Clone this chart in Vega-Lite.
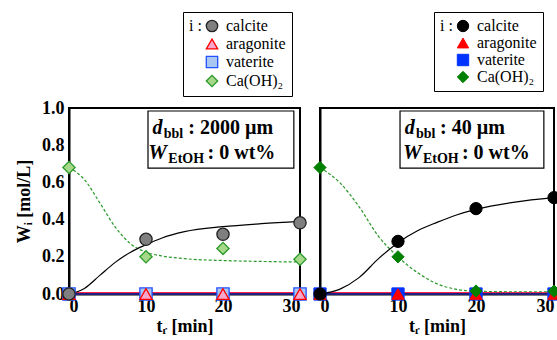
{
  "$schema": "https://vega.github.io/schema/vega-lite/v6.json",
  "padding": {"top": 10, "left": 14, "right": 2, "bottom": 2},
  "background": "white",
  "config": {
    "view": {"stroke": "black", "strokeWidth": 2},
    "font": "Liberation Serif",
    "axis": {"domainColor": "black", "domainWidth": 2, "tickColor": "black", "grid": false, "labelColor": "black", "titleColor": "black", "labelFont": "Liberation Serif", "titleFont": "Liberation Serif", "labelFontWeight": "bold", "titleFontWeight": "bold", "labelFontSize": 18, "titleFontSize": 18},
    "legend": {"labelFont": "Liberation Serif", "labelFontSize": 16, "labelColor": "black", "titleFont": "Liberation Serif", "titleFontSize": 16, "titleFontWeight": "normal", "titleColor": "black"}
  },
  "datasets": {
    "left_pts": [
      {"mineral": "vaterite", "t": 0, "w": 0}, {"mineral": "vaterite", "t": 10, "w": 0}, {"mineral": "vaterite", "t": 20, "w": 0}, {"mineral": "vaterite", "t": 30, "w": 0},
      {"mineral": "aragonite", "t": 0, "w": 0}, {"mineral": "aragonite", "t": 10, "w": 0}, {"mineral": "aragonite", "t": 20, "w": 0}, {"mineral": "aragonite", "t": 30, "w": 0},
      {"mineral": "Ca(OH)₂", "t": 0, "w": 0.68}, {"mineral": "Ca(OH)₂", "t": 10, "w": 0.2}, {"mineral": "Ca(OH)₂", "t": 20, "w": 0.245}, {"mineral": "Ca(OH)₂", "t": 30, "w": 0.187},
      {"mineral": "calcite", "t": 0, "w": 0}, {"mineral": "calcite", "t": 10, "w": 0.294}, {"mineral": "calcite", "t": 20, "w": 0.321}, {"mineral": "calcite", "t": 30, "w": 0.383}
    ],
    "right_pts": [
      {"mineral": "vaterite", "t": 0, "w": 0}, {"mineral": "vaterite", "t": 10, "w": 0}, {"mineral": "vaterite", "t": 20, "w": 0}, {"mineral": "vaterite", "t": 30, "w": 0},
      {"mineral": "aragonite", "t": 0, "w": 0}, {"mineral": "aragonite", "t": 10, "w": 0}, {"mineral": "aragonite", "t": 20, "w": 0}, {"mineral": "aragonite", "t": 30, "w": 0},
      {"mineral": "Ca(OH)₂", "t": 0, "w": 0.68}, {"mineral": "Ca(OH)₂", "t": 10, "w": 0.2}, {"mineral": "Ca(OH)₂", "t": 20, "w": 0.016}, {"mineral": "Ca(OH)₂", "t": 30, "w": 0.015},
      {"mineral": "calcite", "t": 0, "w": 0}, {"mineral": "calcite", "t": 10, "w": 0.283}, {"mineral": "calcite", "t": 20, "w": 0.459}, {"mineral": "calcite", "t": 30, "w": 0.518}
    ],
    "left_fit": [
      {"series": "calcite", "t": 0, "w": 0}, {"series": "calcite", "t": 2, "w": 0.03}, {"series": "calcite", "t": 4, "w": 0.1}, {"series": "calcite", "t": 6, "w": 0.17}, {"series": "calcite", "t": 8, "w": 0.225}, {"series": "calcite", "t": 10, "w": 0.265}, {"series": "calcite", "t": 12, "w": 0.3}, {"series": "calcite", "t": 15, "w": 0.335}, {"series": "calcite", "t": 20, "w": 0.362}, {"series": "calcite", "t": 25, "w": 0.378}, {"series": "calcite", "t": 30, "w": 0.39},
      {"series": "caoh", "t": 0, "w": 0.68}, {"series": "caoh", "t": 2, "w": 0.615}, {"series": "caoh", "t": 4, "w": 0.49}, {"series": "caoh", "t": 6, "w": 0.36}, {"series": "caoh", "t": 8, "w": 0.27}, {"series": "caoh", "t": 10, "w": 0.225}, {"series": "caoh", "t": 12, "w": 0.205}, {"series": "caoh", "t": 15, "w": 0.19}, {"series": "caoh", "t": 20, "w": 0.18}, {"series": "caoh", "t": 25, "w": 0.175}, {"series": "caoh", "t": 30, "w": 0.172}
    ],
    "right_fit": [
      {"series": "calcite", "t": 0, "w": 0}, {"series": "calcite", "t": 2.5, "w": 0.025}, {"series": "calcite", "t": 5, "w": 0.088}, {"series": "calcite", "t": 7.5, "w": 0.19}, {"series": "calcite", "t": 10, "w": 0.276}, {"series": "calcite", "t": 12.5, "w": 0.34}, {"series": "calcite", "t": 15, "w": 0.385}, {"series": "calcite", "t": 17.5, "w": 0.425}, {"series": "calcite", "t": 20, "w": 0.455}, {"series": "calcite", "t": 25, "w": 0.494}, {"series": "calcite", "t": 30, "w": 0.518},
      {"series": "caoh", "t": 0, "w": 0.68}, {"series": "caoh", "t": 2.5, "w": 0.6}, {"series": "caoh", "t": 5, "w": 0.47}, {"series": "caoh", "t": 7.5, "w": 0.31}, {"series": "caoh", "t": 10, "w": 0.2}, {"series": "caoh", "t": 12.5, "w": 0.115}, {"series": "caoh", "t": 15, "w": 0.055}, {"series": "caoh", "t": 17.5, "w": 0.025}, {"series": "caoh", "t": 20, "w": 0.015}, {"series": "caoh", "t": 25, "w": 0.012}, {"series": "caoh", "t": 30, "w": 0.012}
    ],
    "zero": [
      {"series": "vaterite", "t": 0, "w": 0}, {"series": "vaterite", "t": 30, "w": 0},
      {"series": "aragonite", "t": 0, "w": 0.006}, {"series": "aragonite", "t": 30, "w": 0.006}
    ],
    "one": [{"k": 1}]
  },
  "hconcat": [
    {
      "width": 231, "height": 186,
      "layer": [
        {
          "encoding": {
            "x": {"field": "t", "type": "quantitative", "scale": {"domain": [0, 30]}, "axis": {"values": [0, 10, 20, 30], "title": "tᵣ [min]", "labelPadding": 3, "titlePadding": 2, "ticks": false, "labelFont": "Liberation Serif", "labelFontWeight": "bold", "labelFontSize": 18, "titleFont": "Liberation Serif", "titleFontWeight": "bold", "titleFontSize": 18, "labelOverlap": false}},
            "y": {"field": "w", "type": "quantitative", "scale": {"domain": [0, 1]}, "axis": {"values": [0, 0.2, 0.4, 0.6, 0.8, 1.0], "format": ".1f", "title": "Wᵢ [mol/L]", "ticks": false, "labelPadding": 5, "titlePadding": 8, "labelFont": "Liberation Serif", "labelFontWeight": "bold", "labelFontSize": 18, "titleFont": "Liberation Serif", "titleFontWeight": "bold", "titleFontSize": 18, "labelOverlap": false}}
          },
          "layer": [
            {"data": {"name": "zero"}, "transform": [{"filter": "datum.series == 'aragonite'"}], "mark": {"type": "line", "color": "#ff2050", "strokeWidth": 2}},
            {"data": {"name": "zero"}, "transform": [{"filter": "datum.series == 'vaterite'"}], "mark": {"type": "line", "color": "#202080", "strokeWidth": 2}},
            {"data": {"name": "left_fit"}, "transform": [{"filter": "datum.series == 'caoh'"}], "mark": {"type": "line", "color": "#2a9a2a", "strokeWidth": 1.2, "strokeDash": [3, 2], "interpolate": "monotone"}},
            {"data": {"name": "left_fit"}, "transform": [{"filter": "datum.series == 'calcite'"}], "mark": {"type": "line", "color": "black", "strokeWidth": 1.2, "interpolate": "monotone"}},
            {"data": {"name": "left_pts"}, "mark": {"type": "point", "filled": true, "size": 150, "strokeWidth": 1.3, "opacity": 1},
              "encoding": {
                "shape": {"field": "mineral", "type": "nominal", "scale": {"domain": ["calcite", "aragonite", "vaterite", "Ca(OH)₂"], "range": ["circle", "triangle-up", "square", "diamond"]}, "legend": {"title": "i :", "titleOrient": "left", "titleBaseline": "top", "titleAnchor": "start", "titlePadding": 2, "orient": "none", "legendX": 114, "legendY": -96, "padding": 6, "strokeColor": "black", "fillColor": "white", "symbolSize": 130, "symbolStrokeWidth": 1.3, "rowPadding": 1, "labelOffset": 6}},
                "fill": {"field": "mineral", "type": "nominal", "scale": {"domain": ["calcite", "aragonite", "vaterite", "Ca(OH)₂"], "range": ["#7f7f7f", "#f6a8cc", "#a8c6f0", "#a6d88a"]}},
                "stroke": {"field": "mineral", "type": "nominal", "scale": {"domain": ["calcite", "aragonite", "vaterite", "Ca(OH)₂"], "range": ["#222222", "#ff0000", "#2050ff", "#2a9a2a"]}}
              }}
          ]
        },
        {
          "encoding": {
            "x": {"datum": 10.26, "type": "quantitative", "scale": {"domain": [0, 30]}, "axis": {"values": [0, 10, 20, 30], "title": "tᵣ [min]", "labelPadding": 3, "titlePadding": 2, "ticks": false, "labelFont": "Liberation Serif", "labelFontWeight": "bold", "labelFontSize": 18, "titleFont": "Liberation Serif", "titleFontWeight": "bold", "titleFontSize": 18, "labelOverlap": false}},
            "y": {"datum": 0.984, "type": "quantitative", "scale": {"domain": [0, 1]}, "axis": {"values": [0, 0.2, 0.4, 0.6, 0.8, 1.0], "format": ".1f", "title": "Wᵢ [mol/L]", "ticks": false, "labelPadding": 5, "titlePadding": 8, "labelFont": "Liberation Serif", "labelFontWeight": "bold", "labelFontSize": 18, "titleFont": "Liberation Serif", "titleFontWeight": "bold", "titleFontSize": 18, "labelOverlap": false}}
          },
          "layer": [
            {"data": {"name": "one"}, "mark": {"type": "rect", "fill": "white", "stroke": "black", "strokeWidth": 1.2}, "encoding": {"x2": {"datum": 29.2}, "y2": {"datum": 0.677}}},
            {"data": {"name": "one"}, "mark": {"type": "text", "align": "left", "baseline": "alphabetic", "font": "Liberation Serif", "fontSize": 20, "fontWeight": "bold", "fontStyle": "italic"}, "encoding": {"x": {"datum": 10.85}, "y": {"datum": 0.86}, "text": {"value": "d"}}},
            {"data": {"name": "one"}, "mark": {"type": "text", "align": "left", "baseline": "alphabetic", "font": "Liberation Serif", "fontSize": 14, "fontWeight": "bold"}, "encoding": {"x": {"datum": 12.3}, "y": {"datum": 0.84}, "text": {"value": "bbl"}}},
            {"data": {"name": "one"}, "mark": {"type": "text", "align": "left", "baseline": "alphabetic", "font": "Liberation Serif", "fontSize": 20, "fontWeight": "bold"}, "encoding": {"x": {"datum": 15.5}, "y": {"datum": 0.86}, "text": {"value": ": 2000 µm"}}},
            {"data": {"name": "one"}, "mark": {"type": "text", "align": "left", "baseline": "alphabetic", "font": "Liberation Serif", "fontSize": 21, "fontWeight": "bold", "fontStyle": "italic"}, "encoding": {"x": {"datum": 10.3}, "y": {"datum": 0.724}, "text": {"value": "W"}}},
            {"data": {"name": "one"}, "mark": {"type": "text", "align": "left", "baseline": "alphabetic", "font": "Liberation Serif", "fontSize": 14, "fontWeight": "bold"}, "encoding": {"x": {"datum": 12.9}, "y": {"datum": 0.706}, "text": {"value": "EtOH"}}},
            {"data": {"name": "one"}, "mark": {"type": "text", "align": "left", "baseline": "alphabetic", "font": "Liberation Serif", "fontSize": 20, "fontWeight": "bold"}, "encoding": {"x": {"datum": 18.0}, "y": {"datum": 0.724}, "text": {"value": ": 0 wt%"}}}
          ]
        }
      ]
    },
    {
      "width": 234, "height": 186,
      "layer": [
        {
          "encoding": {
            "x": {"field": "t", "type": "quantitative", "scale": {"domain": [0, 30]}, "axis": {"values": [0, 10, 20, 30], "title": "tᵣ [min]", "labelPadding": 3, "titlePadding": 2, "ticks": false, "labelFont": "Liberation Serif", "labelFontWeight": "bold", "labelFontSize": 18, "titleFont": "Liberation Serif", "titleFontWeight": "bold", "titleFontSize": 18, "labelOverlap": false}},
            "y": {"field": "w", "type": "quantitative", "scale": {"domain": [0, 1]}, "axis": {"values": [0, 0.2, 0.4, 0.6, 0.8, 1.0], "labels": false, "ticks": false, "title": null}}
          },
          "layer": [
            {"data": {"name": "zero"}, "transform": [{"filter": "datum.series == 'aragonite'"}], "mark": {"type": "line", "color": "#ff2050", "strokeWidth": 2}},
            {"data": {"name": "zero"}, "transform": [{"filter": "datum.series == 'vaterite'"}], "mark": {"type": "line", "color": "#202080", "strokeWidth": 2}},
            {"data": {"name": "right_fit"}, "transform": [{"filter": "datum.series == 'caoh'"}], "mark": {"type": "line", "color": "#2a9a2a", "strokeWidth": 1.2, "strokeDash": [3, 2], "interpolate": "monotone"}},
            {"data": {"name": "right_fit"}, "transform": [{"filter": "datum.series == 'calcite'"}], "mark": {"type": "line", "color": "black", "strokeWidth": 1.2, "interpolate": "monotone"}},
            {"data": {"name": "right_pts"}, "mark": {"type": "point", "filled": true, "size": 150, "strokeWidth": 1, "opacity": 1},
              "encoding": {
                "shape": {"field": "mineral", "type": "nominal", "scale": {"domain": ["calcite", "aragonite", "vaterite", "Ca(OH)₂"], "range": ["circle", "triangle-up", "square", "diamond"]}, "legend": {"title": "i :", "titleOrient": "left", "titleBaseline": "top", "titleAnchor": "start", "titlePadding": 2, "orient": "none", "legendX": 114, "legendY": -96, "padding": 6, "strokeColor": "black", "fillColor": "white", "symbolSize": 130, "symbolStrokeWidth": 1, "rowPadding": 1, "labelOffset": 6}},
                "fill": {"field": "mineral", "type": "nominal", "scale": {"domain": ["calcite", "aragonite", "vaterite", "Ca(OH)₂"], "range": ["#000000", "#ff0000", "#0033ff", "#008000"]}},
                "stroke": {"field": "mineral", "type": "nominal", "scale": {"domain": ["calcite", "aragonite", "vaterite", "Ca(OH)₂"], "range": ["#000000", "#ff0000", "#0033ff", "#008000"]}}
              }}
          ]
        },
        {
          "encoding": {
            "x": {"datum": 10.26, "type": "quantitative", "scale": {"domain": [0, 30]}, "axis": {"values": [0, 10, 20, 30], "title": "tᵣ [min]", "labelPadding": 3, "titlePadding": 2, "ticks": false, "labelFont": "Liberation Serif", "labelFontWeight": "bold", "labelFontSize": 18, "titleFont": "Liberation Serif", "titleFontWeight": "bold", "titleFontSize": 18, "labelOverlap": false}},
            "y": {"datum": 0.984, "type": "quantitative", "scale": {"domain": [0, 1]}, "axis": {"values": [0, 0.2, 0.4, 0.6, 0.8, 1.0], "labels": false, "ticks": false, "title": null}}
          },
          "layer": [
            {"data": {"name": "one"}, "mark": {"type": "rect", "fill": "white", "stroke": "black", "strokeWidth": 1.2}, "encoding": {"x2": {"datum": 28.7}, "y2": {"datum": 0.677}}},
            {"data": {"name": "one"}, "mark": {"type": "text", "align": "left", "baseline": "alphabetic", "font": "Liberation Serif", "fontSize": 20, "fontWeight": "bold", "fontStyle": "italic"}, "encoding": {"x": {"datum": 10.86}, "y": {"datum": 0.86}, "text": {"value": "d"}}},
            {"data": {"name": "one"}, "mark": {"type": "text", "align": "left", "baseline": "alphabetic", "font": "Liberation Serif", "fontSize": 14, "fontWeight": "bold"}, "encoding": {"x": {"datum": 12.3}, "y": {"datum": 0.84}, "text": {"value": "bbl"}}},
            {"data": {"name": "one"}, "mark": {"type": "text", "align": "left", "baseline": "alphabetic", "font": "Liberation Serif", "fontSize": 20, "fontWeight": "bold"}, "encoding": {"x": {"datum": 15.4}, "y": {"datum": 0.86}, "text": {"value": ": 40 µm"}}},
            {"data": {"name": "one"}, "mark": {"type": "text", "align": "left", "baseline": "alphabetic", "font": "Liberation Serif", "fontSize": 21, "fontWeight": "bold", "fontStyle": "italic"}, "encoding": {"x": {"datum": 10.64}, "y": {"datum": 0.724}, "text": {"value": "W"}}},
            {"data": {"name": "one"}, "mark": {"type": "text", "align": "left", "baseline": "alphabetic", "font": "Liberation Serif", "fontSize": 14, "fontWeight": "bold"}, "encoding": {"x": {"datum": 13.2}, "y": {"datum": 0.706}, "text": {"value": "EtOH"}}},
            {"data": {"name": "one"}, "mark": {"type": "text", "align": "left", "baseline": "alphabetic", "font": "Liberation Serif", "fontSize": 20, "fontWeight": "bold"}, "encoding": {"x": {"datum": 18.2}, "y": {"datum": 0.724}, "text": {"value": ": 0 wt%"}}}
          ]
        }
      ]
    }
  ],
  "spacing": 0,
  "resolve": {"scale": {"shape": "independent", "fill": "independent", "stroke": "independent", "x": "independent", "y": "independent"}, "legend": {"shape": "independent", "fill": "independent", "stroke": "independent"}}
}
